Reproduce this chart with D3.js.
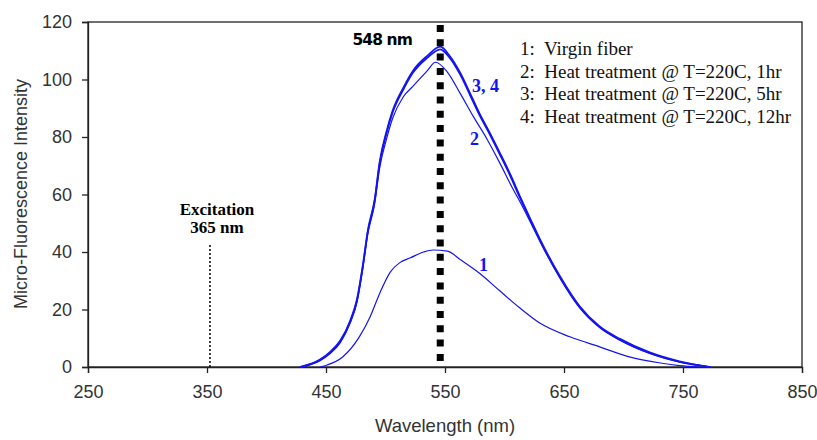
<!DOCTYPE html>
<html>
<head>
<meta charset="UTF-8">
<script src="https://d3js.org/d3.v7.min.js"></script>
<style>
  body { margin: 0; background: #fff; }
</style>
</head>
<body>
<div id="chart"></div>
<script>
// wavelength (nm) samples and intensities
var wl1 = [445, 451, 464, 478, 487, 495, 504, 512, 521, 532, 540, 552, 563, 579, 596, 613, 630, 655, 680, 705, 731, 747, 764];
var virgin = [0, 0.7, 3.5, 10.5, 17.4, 25.5, 33, 36.3, 38, 40, 40.7, 40.3, 37.3, 32.6, 26.5, 20.5, 15.2, 10.5, 7, 3.5, 1.4, 0.5, 0];

var wl2 = [430, 445, 453, 462, 470, 476, 481, 485, 491, 495, 501, 506, 515, 523, 535, 542, 552, 563, 574, 585, 596, 607, 613, 622, 630, 647, 663, 680, 697, 722, 747, 773];
var heat1hr = [0, 2.2, 4.5, 8.5, 15, 22.5, 34.5, 46, 57, 69, 79.5, 86.5, 94, 97.6, 103, 106, 102.6, 95, 87, 79.5, 71, 62, 57.5, 50.2, 43.5, 30.8, 20.8, 13.8, 9.4, 4.8, 1.8, 0];

var wl34 = [428, 445, 453, 462, 470, 476, 481, 485, 491, 495, 501, 506, 515, 523, 535, 546, 554, 563, 571, 579, 588, 596, 605, 613, 622, 630, 647, 663, 680, 697, 722, 747, 773];
var heat5hr = [0, 2.4, 4.8, 8.8, 15.3, 23, 35, 46.6, 58, 70.5, 81.5, 88.5, 96.5, 102.3, 107.5, 110.5, 107.5, 101.5, 94.6, 87.6, 80.6, 74, 66.3, 58.8, 50.8, 43.8, 30.8, 20.8, 13.8, 9.4, 4.8, 1.8, 0];
var heat12hr = [0, 2.6, 5.1, 9.2, 15.8, 23.6, 35.6, 47.2, 58.6, 71.2, 82.2, 89.2, 97.2, 103, 108.2, 111.4, 108.2, 102.2, 95.3, 88.2, 81.2, 74.6, 66.9, 59.4, 51.3, 44.3, 31.3, 21.2, 14.1, 9.8, 5.1, 2, 0];

var xTicks = [250, 350, 450, 550, 650, 750, 850];
var yTicks = [0, 20, 40, 60, 80, 100, 120];
var legendLines = ["1:  Virgin fiber", "2:  Heat treatment @ T=220C, 1hr", "3:  Heat treatment @ T=220C, 5hr", "4:  Heat treatment @ T=220C, 12hr"];
var peakNm = 546;
var excitationNm = 352.5;

var W = 817, H = 440;
var margin = { top: 22, right: 15, bottom: 73, left: 88 };
var width = W - margin.left - margin.right,
    height = H - margin.top - margin.bottom;

var sans = "Liberation Sans, Arial, sans-serif",
    serif = "Liberation Serif, Times New Roman, serif",
    blue = "#1414f0";

var svg = d3.select("#chart").append("svg")
    .attr("width", W).attr("height", H);
var g = svg.append("g")
    .attr("transform", "translate(" + margin.left + "," + margin.top + ")");

var x = d3.scaleLinear().domain([250, 850]).range([0, width]);
var y = d3.scaleLinear().domain([0, 120]).range([height, 0]);

// frame
g.append("rect")
    .attr("x", 0).attr("y", 0).attr("width", width).attr("height", height)
    .attr("fill", "none").attr("stroke", "#222").attr("stroke-width", 1.3);

// axes
var xAxis = g.append("g").attr("transform", "translate(0," + height + ")")
    .call(d3.axisBottom(x).tickValues(xTicks).tickSize(6).tickPadding(12).tickFormat(d3.format("d")));
var yAxis = g.append("g")
    .call(d3.axisLeft(y).tickValues(yTicks).tickSize(6).tickPadding(10).tickFormat(d3.format("d")));
[xAxis, yAxis].forEach(function (a) {
  a.select(".domain").attr("stroke", "#222").attr("stroke-width", 1.3);
  a.selectAll(".tick line").attr("stroke", "#222").attr("stroke-width", 1.3);
  a.selectAll("text").attr("font-family", sans)
    .attr("font-size", 18).attr("fill", "#333");
});

svg.append("text")
    .attr("x", margin.left + x(550)).attr("y", 432)
    .attr("text-anchor", "middle")
    .attr("font-family", sans).attr("font-size", 18.5).attr("fill", "#333")
    .text("Wavelength (nm)");
svg.append("text")
    .attr("transform", "translate(27," + 194 + ") rotate(-90)")
    .attr("text-anchor", "middle")
    .attr("font-family", sans).attr("font-size", 18).attr("fill", "#333")
    .text("Micro-Fluorescence Intensity");

// excitation marker
g.append("line")
    .attr("x1", x(excitationNm)).attr("x2", x(excitationNm))
    .attr("y1", y(0)).attr("y2", y(42.5))
    .attr("stroke", "#111").attr("stroke-width", 1.6).attr("stroke-dasharray", "2,2");
g.append("text")
    .attr("x", 217 - margin.left).attr("y", 215 - margin.top)
    .attr("text-anchor", "middle")
    .attr("font-family", serif).attr("font-weight", "bold").attr("font-size", 17)
    .text("Excitation");
g.append("text")
    .attr("x", 217 - margin.left).attr("y", 233 - margin.top)
    .attr("text-anchor", "middle")
    .attr("font-family", serif).attr("font-weight", "bold").attr("font-size", 17)
    .text("365 nm");

var line = d3.line()
    .x(function (d) { return x(d[0]); })
    .y(function (d) { return y(d[1]); })
    .curve(d3.curveMonotoneX);

var series = [
  { wl: wl1, v: virgin, w: 1.2 },
  { wl: wl2, v: heat1hr, w: 1.2 },
  { wl: wl34, v: heat5hr, w: 1.7 },
  { wl: wl34, v: heat12hr, w: 1.7 }
];
series.forEach(function (s) {
  g.append("path")
      .datum(d3.zip(s.wl, s.v))
      .attr("d", line)
      .attr("fill", "none")
      .attr("stroke", blue)
      .attr("stroke-width", s.w);
});

// peak marker
g.append("line")
    .attr("x1", x(peakNm)).attr("x2", x(peakNm))
    .attr("y1", 3).attr("y2", y(0))
    .attr("stroke", "#000").attr("stroke-width", 7).attr("stroke-dasharray", "7,7.3");
g.append("text")
    .attr("x", 412 - margin.left).attr("y", 45 - margin.top)
    .attr("text-anchor", "end")
    .attr("font-family", "DejaVu Sans, Verdana, sans-serif").attr("font-weight", "bold").attr("font-size", 15.5)
    .attr("letter-spacing", -0.9)
    .text("548 nm");

// curve labels
var curveLabels = [
  { t: "3, 4", nm: 572.7, v: 95.7 },
  { t: "2", nm: 571, v: 77.2 },
  { t: "1", nm: 578.6, v: 33.4 }
];
g.selectAll(".clab").data(curveLabels).enter().append("text")
    .attr("x", function (d) { return x(d.nm); })
    .attr("y", function (d) { return y(d.v); })
    .attr("font-family", serif).attr("font-weight", "bold").attr("font-size", 18)
    .attr("fill", blue)
    .style("white-space", "pre")
    .text(function (d) { return d.t; });

// legend
g.selectAll(".leg").data(legendLines).enter().append("text")
    .attr("x", 432)
    .attr("y", function (d, i) { return 33 + i * 22.5; })
    .attr("font-family", serif).attr("font-size", 19)
    .attr("fill", "#111")
    .style("white-space", "pre")
    .text(function (d) { return d; });
</script>
</body>
</html>
